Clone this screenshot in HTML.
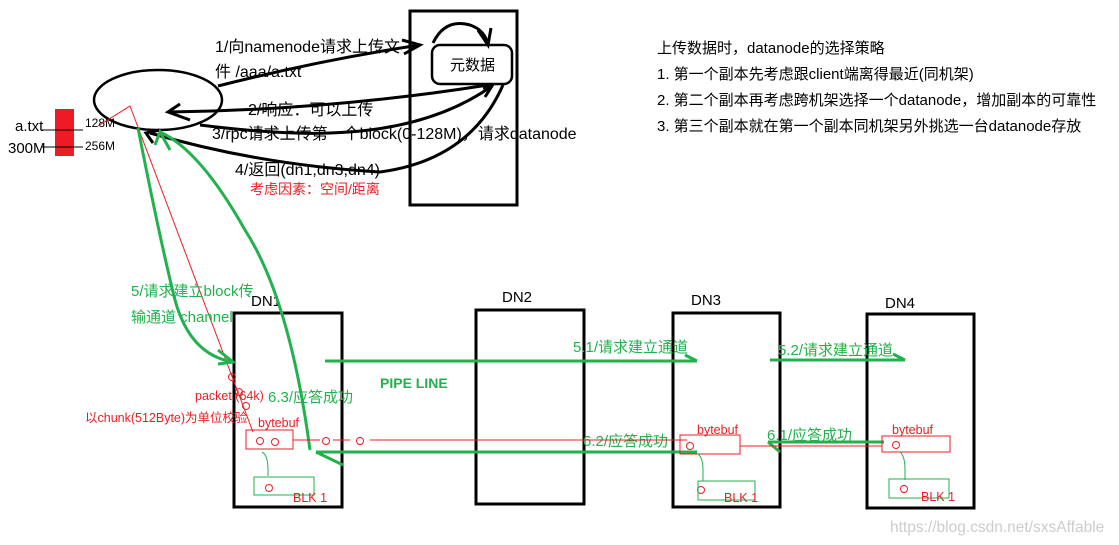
<!DOCTYPE html>
<html><head><meta charset="utf-8"><style>
body{margin:0;background:#fff;width:1119px;height:545px;overflow:hidden}
svg{display:block}
text{font-family:"Liberation Sans","Noto Sans CJK SC",sans-serif}
</style></head><body>
<svg width="1119" height="545" viewBox="0 0 1119 545" xmlns="http://www.w3.org/2000/svg">
<rect x="410" y="11" width="107" height="194" fill="none" stroke="#000" stroke-width="3"/>
<rect x="432" y="45" width="80" height="39" rx="8" fill="none" stroke="#000" stroke-width="2.5"/>
<text x="450" y="70" font-size="15">元数据</text>
<ellipse cx="158" cy="100" rx="64" ry="30" fill="none" stroke="#000" stroke-width="2.5"/>
<rect x="55" y="109" width="19" height="47" fill="#ed1c24"/>
<line x1="42" y1="130" x2="83" y2="130" stroke="#000"/>
<line x1="42" y1="147" x2="83" y2="147" stroke="#000"/>
<text x="15" y="131" font-size="15">a.txt</text>
<text x="8" y="153" font-size="15">300M</text>
<text x="85" y="127" font-size="12">128M</text>
<text x="85" y="150" font-size="12">256M</text>
<g fill="none" stroke="#000" stroke-width="3">
<path d="M218 86 Q320 60 420 45"/><path d="M402 40 L420 45 L404 54"/>
<path d="M433 43 Q445 18 470 25 Q485 30 488 45"/><path d="M478 30 L488 45 L491 28"/>
<path d="M488 85 Q330 110 170 112"/><path d="M180 104 L168 112 L190 120"/>
<path d="M200 125 Q280 135 330 133 Q430 130 492 86"/><path d="M483 88 L492 86 L485 97"/>
<path d="M503 85 Q470 160 380 172 Q260 165 150 133"/><path d="M153 143 L146 133 L160 130"/>
</g>
<g font-size="16">
<text x="215" y="52">1/向namenode请求上传文</text>
<text x="215" y="77">件 /aaa/a.txt</text>
<text x="248" y="115">2/响应：可以上传</text>
<text x="212" y="139">3/rpc请求上传第一个block(0-128M)，请求datanode</text>
<text x="235" y="175">4/返回(dn1,dn3,dn4)</text>
</g>
<text x="250" y="194" font-size="14" fill="#ed1c24">考虑因素：空间/距离</text>
<g font-size="15">
<text x="657" y="53">上传数据时，datanode的选择策略</text>
<text x="657" y="79">1. 第一个副本先考虑跟client端离得最近(同机架)</text>
<text x="657" y="105">2. 第二个副本再考虑跨机架选择一个datanode，增加副本的可靠性</text>
<text x="657" y="131">3. 第三个副本就在第一个副本同机架另外挑选一台datanode存放</text>
</g>
<g fill="none" stroke="#000" stroke-width="3">
<rect x="234" y="313" width="108" height="194"/>
<rect x="476" y="310" width="108" height="194"/>
<rect x="673" y="313" width="107" height="194"/>
<rect x="867" y="314" width="107" height="194"/>
</g>
<g font-size="15">
<text x="251" y="306">DN1</text><text x="502" y="302">DN2</text>
<text x="691" y="305">DN3</text><text x="885" y="308">DN4</text>
</g>
<path d="M98 126 L130 106 L253 432" fill="none" stroke="#ed1c24" stroke-width="1"/>
<g fill="none" stroke="#22b14c" stroke-width="3">
<path d="M138 128 Q160 240 175 300 Q190 355 233 362"/><path d="M218 350 L233 362 L218 364"/>
<path d="M310 450 Q290 300 245 230 Q200 150 160 132"/><path d="M155 145 L160 132 L170 150"/>
<path d="M325 361 L697 361"/><path d="M685 355 L697 361"/>
<path d="M770 360 L905 360"/><path d="M893 354 L905 360"/>
<path d="M697 452 L316 452"/><path d="M316 452 L343 465"/>
<path d="M884 442 L768 442"/><path d="M768 442 L780 452"/>
</g>
<text x="380" y="388" font-size="14" font-weight="bold" fill="#22b14c">PIPE LINE</text>
<g font-size="15" fill="#22b14c">
<text x="131" y="296">5/请求建立block传</text>
<text x="131" y="322">输通道 channel</text>
<text x="268" y="402">6.3/应答成功</text>
<text x="573" y="352">5.1/请求建立通道</text>
<text x="778" y="355">5.2/请求建立通道</text>
<text x="583" y="446">6.2/应答成功</text>
<text x="767" y="440">6.1/应答成功</text>
</g>
<g fill="none" stroke="#ed1c24" stroke-width="1">
<circle cx="232" cy="377" r="3.5"/><circle cx="239" cy="392" r="3.5"/><circle cx="246" cy="406" r="3.5"/>
<rect x="246" y="430" width="47" height="19"/>
<circle cx="260" cy="441" r="3.5"/><circle cx="275" cy="442" r="3.5"/>
<circle cx="326" cy="441" r="3.5"/><circle cx="360" cy="441" r="3.5"/>
<path d="M293 440 L320 440 M333 440 L350 440 M370 440 L490 440 L687 440"/>
<rect x="680" y="435" width="60" height="19"/><circle cx="690" cy="446" r="3.5"/>
<path d="M740 446 L882 446"/>
<rect x="882" y="436" width="68" height="16"/><circle cx="896" cy="445" r="3.5"/>
<circle cx="269" cy="488" r="3.5"/><circle cx="701" cy="490" r="3.5"/><circle cx="904" cy="489" r="3.5"/>
</g>
<g fill="none" stroke="#22b14c" stroke-width="1">
<path d="M262 452 Q268 455 268 470 L268 476"/><rect x="254" y="477" width="60" height="18"/>
<path d="M698 454 Q703 458 703 470 L703 481"/><rect x="698" y="481" width="57" height="19"/>
<path d="M900 452 Q905 456 905 470 L905 480"/><rect x="889" y="479" width="60" height="19"/>
</g>
<g font-size="12.5" fill="#ed1c24">
<text x="195" y="400">packet (64k)</text>
<text x="85" y="422">以chunk(512Byte)为单位校验</text>
<text x="258" y="427">bytebuf</text>
<text x="293" y="502">BLK 1</text>
<text x="697" y="434">bytebuf</text>
<text x="724" y="502">BLK 1</text>
<text x="892" y="434">bytebuf</text>
<text x="921" y="501">BLK 1</text>
</g>
<text x="890" y="532" font-size="15.5" fill="#ccc">https://blog.csdn.net/sxsAffable</text>
</svg>
</body></html>
